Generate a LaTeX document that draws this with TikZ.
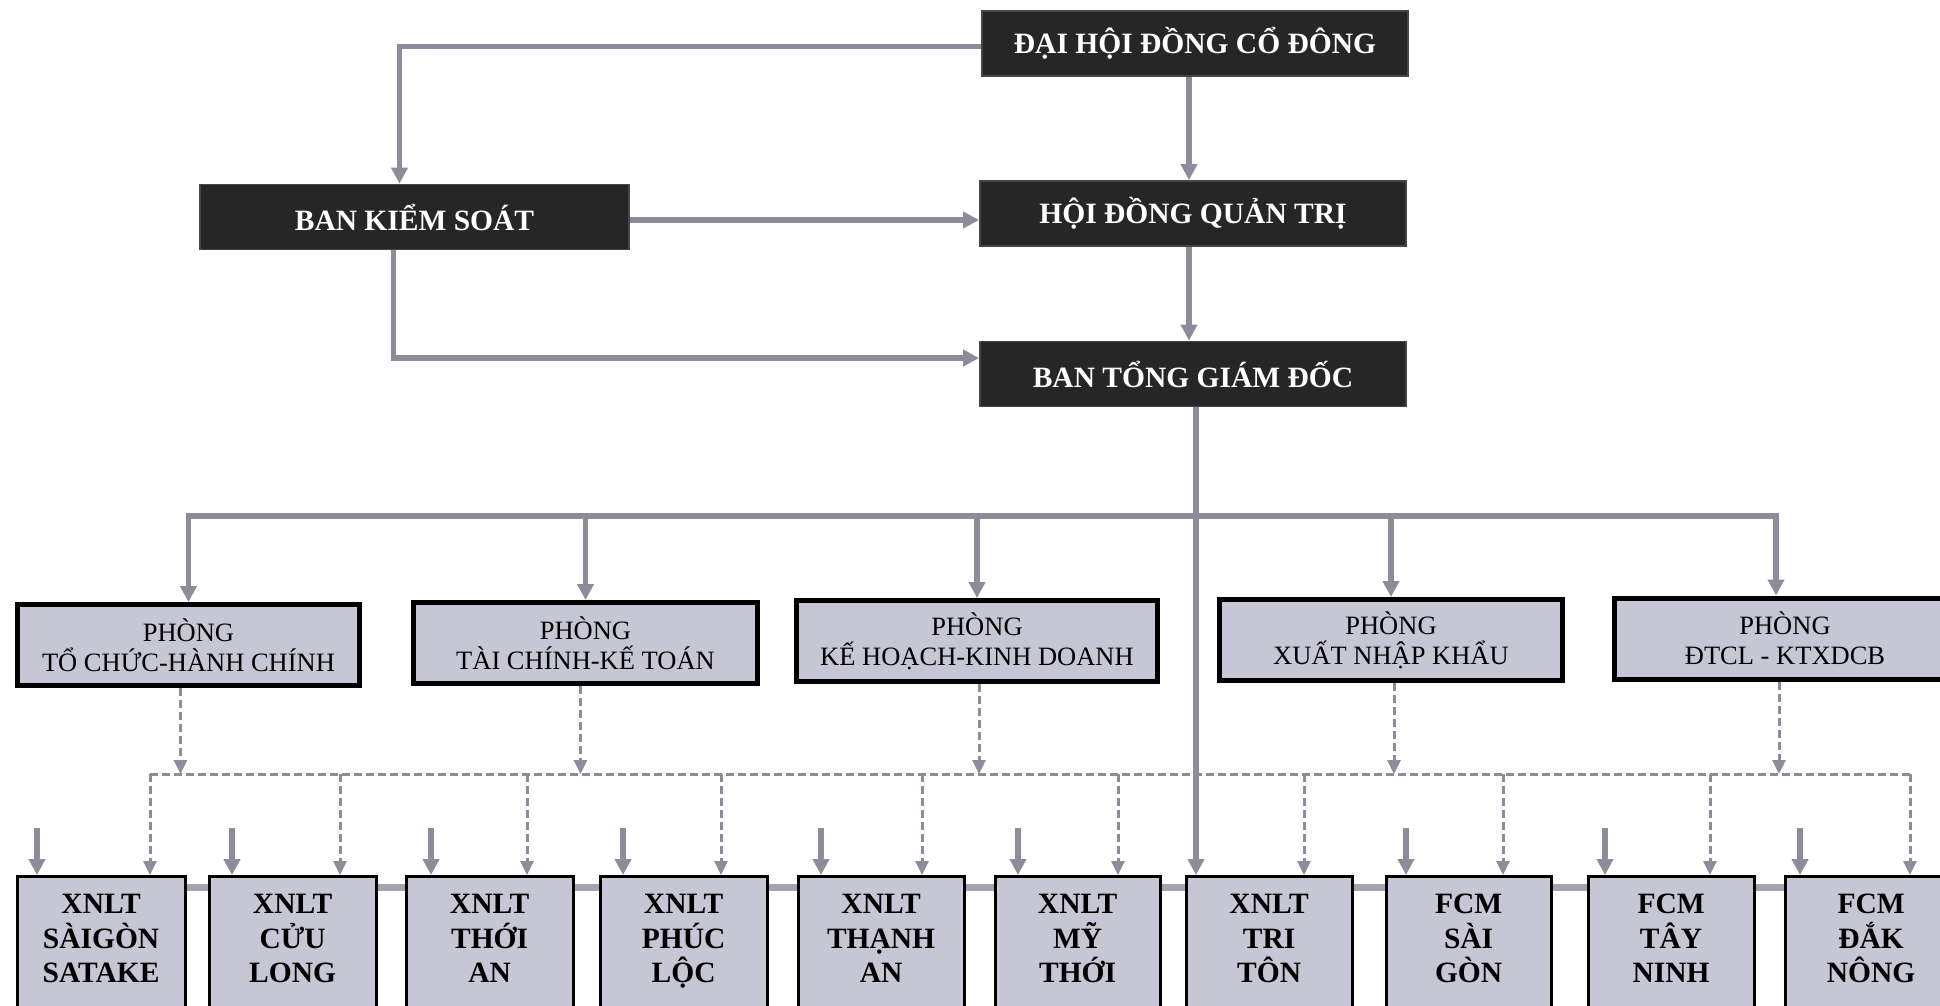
\documentclass[tikz,border=0pt]{standalone}
\usepackage{fontspec}
\setmainfont{Liberation Serif}
\usetikzlibrary{arrows.meta,calc}
\definecolor{lncol}{HTML}{8C8C9A}
\definecolor{bandcol}{HTML}{A4A4AE}
\definecolor{boxfill}{HTML}{C6C6D4}
\definecolor{darkfill}{HTML}{262626}
\tikzset{
  topbox/.style={draw=gray!55!black, line width=1.8pt, fill=darkfill, text=white,
    font=\fontsize{29.5}{34}\selectfont\bfseries, minimum width=426pt, minimum height=65pt, inner sep=0pt},
  phbox/.style={draw=black, line width=5pt, fill=boxfill, align=center,
    font=\fontsize{26.5}{30}\selectfont, minimum height=81pt, inner sep=0pt},
  bbox/.style={draw=black, line width=3.2pt, fill=boxfill, minimum height=220pt, inner sep=0pt},
  btext/.style={anchor=north, align=center, inner sep=0pt,
    font=\fontsize{29.5}{34.5}\selectfont\bfseries},
  ln/.style={draw=lncol, line width=5.5pt},
  arr/.style={ln, -{Triangle[length=16pt,width=16pt]}},
  dln/.style={draw=lncol, line width=3pt, dash pattern=on 8pt off 4pt},
  darr/.style={dln, -{Triangle[length=14pt,width=13pt]}},
  band/.style={draw=bandcol, line width=7pt},
}
\begin{document}
\begin{tikzpicture}[x=1pt,y=-1pt]
\useasboundingbox (0,0) rectangle (1940,1005);
\clip (0,0) rectangle (1940,1005);
\fill[white] (0,0) rectangle (1940,1005);

% top boxes
\node[topbox] (d0) at (1195,43.5) {ĐẠI HỘI ĐỒNG CỔ ĐÔNG};
\node[topbox] (d1) at (1193,213.5) {HỘI ĐỒNG QUẢN TRỊ};
\node[topbox] (d2) at (1193,374) {BAN TỔNG GIÁM ĐỐC};
\node[topbox, minimum width=429pt] (bks) at (414.5,217) {BAN KIỂM SOÁT};

\draw[arr] ([xshift=-6pt]d0.south) -- ([xshift=-6pt]d0.south |- d1.north);
\draw[arr] ([xshift=-4pt]d1.south) -- ([xshift=-4pt]d1.south |- d2.north);
\draw[arr] ([yshift=-3pt]d0.west) -| ([xshift=-15pt]bks.north);
\draw[arr] ([yshift=-3pt]bks.east) -- ([yshift=-3pt]bks.east -| d1.west);
\draw[arr] ([xshift=-21pt]bks.south) |- ([yshift=16pt]d2.west);

% phong boxes
\node[phbox, minimum width=342pt] (p1) at (188.5,645) {PHÒNG\\TỔ CHỨC-HÀNH CHÍNH};
\node[phbox, minimum width=344pt] (p2) at (585.5,643) {PHÒNG\\TÀI CHÍNH-KẾ TOÁN};
\node[phbox, minimum width=361pt] (p3) at (977,641) {PHÒNG\\KẾ HOẠCH-KINH DOANH};
\node[phbox, minimum width=343pt] (p4) at (1391,640) {PHÒNG\\XUẤT NHẬP KHẨU};
\node[phbox, minimum width=341pt] (p5) at (1785,638.5) {PHÒNG\\ĐTCL - KTXDCB};

\coordinate (bus) at (0,516);
\draw[ln] (p2.north |- bus) -- (p4.north |- bus);
\draw[arr] (p2.north |- bus) -- (p1.north |- bus) -- (p1.north);
\draw[arr] (p4.north |- bus) -- ([xshift=-9pt]p5.north |- bus) -- ([xshift=-9pt]p5.north);
\draw[arr] (p2.north |- bus) -- (p2.north);
\draw[arr] (p3.north |- bus) -- (p3.north);
\draw[arr] (p4.north |- bus) -- (p4.north);

% bottom boxes
\foreach \n/\l/\w/\s/\d/\txt in {
 1/14/168/23/150/{XNLT\\SÀIGÒN\\SATAKE},
 2/206/167/26/340/{XNLT\\CỬU\\LONG},
 3/403/167/28/527/{XNLT\\THỚI\\AN},
 4/597/167/26/721/{XNLT\\PHÚC\\LỘC},
 5/795/166/26/922/{XNLT\\THẠNH\\AN},
 6/992/165/26/1118/{XNLT\\MỸ\\THỚI},
 7/1183/166/13/1304/{XNLT\\TRI\\TÔN},
 8/1383/165/23/1503/{FCM\\SÀI\\GÒN},
 9/1585/166/20/1710/{FCM\\TÂY\\NINH},
 10/1782/172/18/1910/{FCM\\ĐẮK\\NÔNG}}
{
 \node[bbox, minimum width=\w pt, anchor=north west] (b\n) at (\l+1.5,875) {};
 \node[btext] (bt\n) at ([yshift=-19pt]b\n.north) {\txt};
 \coordinate (q\n) at (\d,774);
 \draw[darr] (q\n) -- (q\n |- b\n.north);
 \ifnum\n=7\relax\else
   \coordinate (s\n) at (\l+\s,828);
   \draw[arr] (s\n) -- (s\n |- b\n.north);
 \fi
}
\foreach \i [evaluate=\i as \j using int(\i+1)] in {1,...,9}
  {\draw[band] (b\i.east |- 0,887) -- (b\j.west |- 0,887);}

\draw[dln] (q1) -- (q10);
\draw[darr] ([xshift=-8pt]p1.south) -- ([xshift=-8pt]p1.south |- q1);
\draw[darr] ([xshift=-5pt]p2.south) -- ([xshift=-5pt]p2.south |- q1);
\draw[darr] ([xshift=2pt]p3.south) -- ([xshift=2pt]p3.south |- q1);
\draw[darr] ([xshift=3pt]p4.south) -- ([xshift=3pt]p4.south |- q1);
\draw[darr] ([xshift=-6pt]p5.south) -- ([xshift=-6pt]p5.south |- q1);

% long line from BTGD to TRI TON
\draw[arr] ([xshift=3pt]d2.south) -- ([xshift=3pt]d2.south |- b7.north);
\end{tikzpicture}
\end{document}
